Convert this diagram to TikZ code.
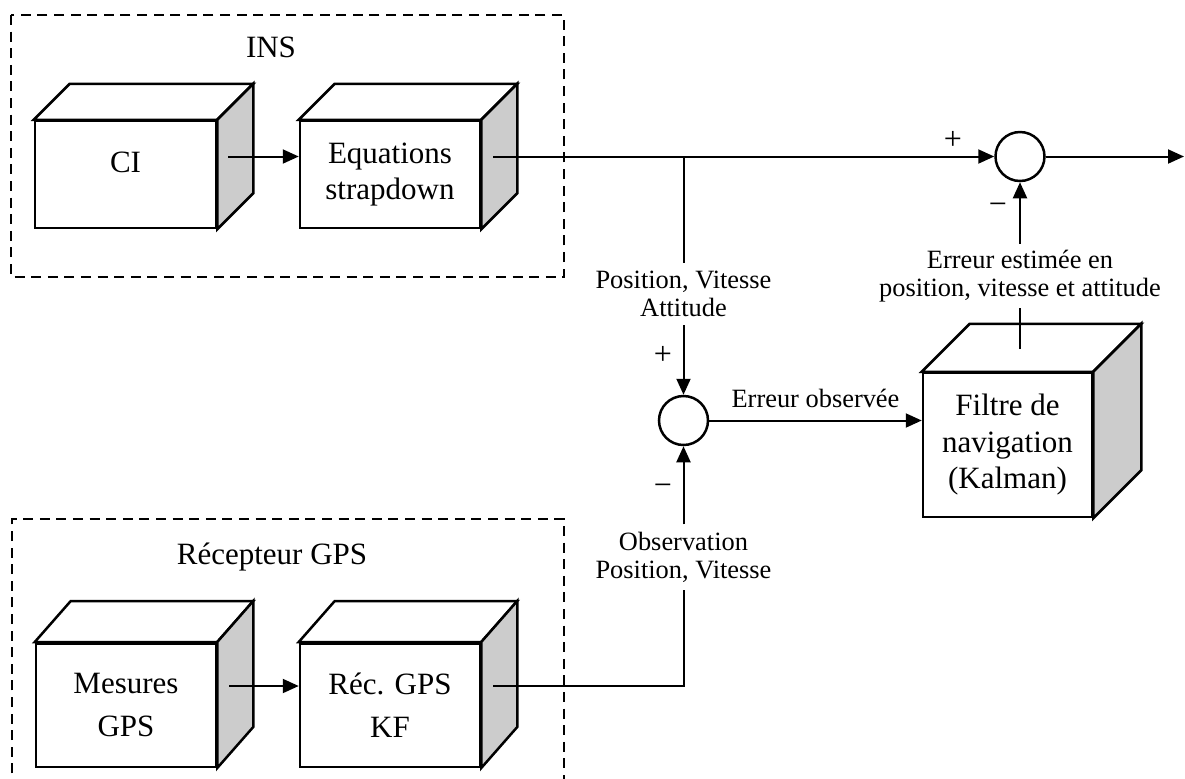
\documentclass[tikz,border=0pt]{standalone}
\usepackage{fontspec}
\setmainfont{Liberation Serif}
\usetikzlibrary{arrows.meta,calc}
\newcommand\bigtext{\fontsize{15.5}{18.25}\selectfont}
\newcommand\gpstext{\fontsize{15.5}{21.5}\selectfont}
\newcommand\smalltext{\fontsize{13.2}{14}\selectfont}
\newcommand\cubefaces[3]{%
  \draw[cubeline, fill=white] (#1.north west) -- ++(#2,-#3) -- ([shift={(#2,-#3)}]#1.north east) -- (#1.north east) -- cycle;
  \draw[cubeline, fill=black!20] (#1.north east) -- ([shift={(#2,-#3)}]#1.north east) -- ([shift={(#2,-#3)}]#1.south east) -- (#1.south east) -- cycle;}
\tikzset{
  cubeline/.style={line width=1.25pt},
  cube/.style={cubeline, draw, fill=white, align=center, inner sep=0pt, font=\bigtext},
  sumnode/.style={cubeline, draw, circle, minimum size=24.5pt, inner sep=0pt},
  flow/.style={line width=1pt, -{Triangle[length=8pt,width=7pt]}},
  wire/.style={line width=1pt},
  frame/.style={line width=1pt, dash pattern=on 5pt off 3.3pt},
  lbl/.style={font=\smalltext, align=center, inner sep=3pt},
  sign/.style={font=\fontsize{16}{16}\selectfont, inner sep=0pt},
}

\begin{document}
\begin{tikzpicture}[x=0.5pt, y=-0.5pt]
            \useasboundingbox (0,0) rectangle (1185,778);
            \draw[frame] (11,15) rectangle (564,277);
            \draw[frame] (12,790) |- (564,519) -- (564,790);
            \node[font=\bigtext] (ins) at (271,47) {INS};
            \node[font=\bigtext] (gpsrx) at (272,557) {Récepteur GPS};
            \node[cube, text depth=12pt, minimum width=90.5pt, minimum height=53.5pt] (ci) at (125.5,174.5) {CI};
            \node[cube, minimum width=90pt, minimum height=53.5pt] (eq) at (390,174.5) {Equations\\strapdown};
            \node[cube, font=\gpstext, minimum width=90pt, minimum height=61.75pt] (mes) at (126,705) {Mesures\\GPS};
            \node[cube, font=\gpstext, minimum width=90pt, minimum height=61.75pt] (rec) at (390,705) {Réc. GPS\\KF};
            \node[cube, minimum width=84.5pt, minimum height=72pt] (kf) at (1007.5,445) {Filtre de\\navigation\\(Kalman)};
            \cubefaces{ci}{36}{36}
            \cubefaces{eq}{36}{36}
            \cubefaces{mes}{36}{41}
            \cubefaces{rec}{36}{41}
            \cubefaces{kf}{48}{48}
            \node[sumnode] (s1) at (1020,156.5) {};
            \node[sumnode] (s2) at (683.5,420.5) {};
            \node[lbl, inner ysep=4pt] (lpva) at (683.5,294) {Position, Vitesse\\Attitude};
            \node[lbl, inner ysep=3.5pt] (lobs) at (683.5,557) {Observation\\Position, Vitesse};
            \node[lbl, inner ysep=3pt] (lest) at (1020,276) {Erreur estimée en\\position, vitesse et attitude};
            \node[sign] (p1) at (953,140) {+};
            \node[sign] (m1) at (998,209) {−};
            \node[sign] (p2) at (663,355) {+};
            \node[sign] (m2) at (663,490) {−};
            \coordinate (br) at (683.5,156.5);
            \coordinate (kftop) at (1020,349);
            \coordinate (out) at (1184,156.5);
            \draw[flow] ([shift={(11,-18)}]ci.east) -- ([yshift=9pt]eq.west);
            \draw[flow] ([shift={(12,-18)}]eq.east) -- (s1.west);
            \draw[flow] (s1.east) -- (out);
            \draw[wire] (br) -- (lpva.north);
            \draw[flow] (lpva.south) -- (s2.north);
            \draw[flow] (s2.east) -- (s2.east -| kf.west) node[lbl, midway, above=3pt] (lerr) {Erreur observée};
            \draw[wire] (kftop) -- (lest.south);
            \draw[flow] (lest.north) -- (s1.south);
            \draw[flow] ([shift={(12,-19)}]mes.east) -- ([yshift=9.5pt]rec.west);
            \draw[wire] ([shift={(12,-19)}]rec.east) -| (lobs.south);
            \draw[flow] (lobs.north) -- (s2.south);
        \end{tikzpicture}
\end{document}
